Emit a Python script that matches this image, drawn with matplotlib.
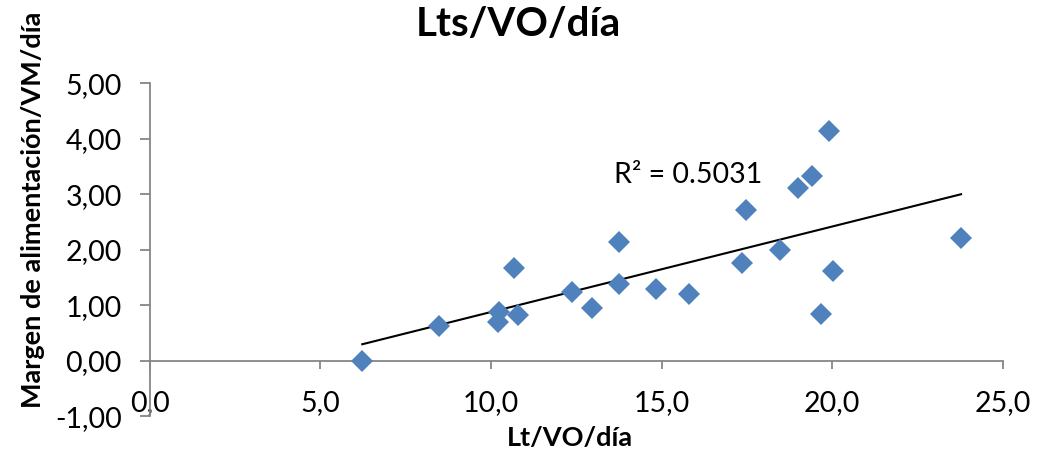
import numpy as np
import matplotlib
matplotlib.use("Agg")
import matplotlib.pyplot as plt

# Data
lt_vo_dia = [6.23, 8.48, 10.24, 10.21, 10.68, 10.79, 12.38, 12.97, 13.75, 13.75,
             14.84, 15.80, 17.36, 17.48, 18.48, 19.00, 19.41, 19.91, 20.02, 19.67, 23.78]
margen = [0.00, 0.63, 0.88, 0.70, 1.67, 0.82, 1.24, 0.95, 2.14, 1.38,
          1.29, 1.20, 1.77, 2.72, 2.00, 3.11, 3.33, 4.14, 1.62, 0.84, 2.21]
x_ticks = [0, 5, 10, 15, 20, 25]
x_tick_labels = ["0,0", "5,0", "10,0", "15,0", "20,0", "25,0"]
y_ticks = [-1, 0, 1, 2, 3, 4, 5]
y_tick_labels = ["-1,00", "0,00", "1,00", "2,00", "3,00", "4,00", "5,00"]
r2_text = "R² = 0.5031"
title = "Lts/VO/día"
xlabel = "Lt/VO/día"
ylabel = "Margen de alimentación/VM/día"

plt.rcParams['font.family'] = ['Lato', 'DejaVu Sans']

fig = plt.figure(figsize=(10.38, 4.55), dpi=100)
ax = fig.add_axes([149.7 / 1038, 1 - 416.2 / 455, (1002.7 - 149.7) / 1038, (416.2 - 83.3) / 455])

x = np.array(lt_vo_dia)
y = np.array(margen)
ax.plot(x, y, linestyle='none', marker='D', markersize=11, color='#4F81BD',
        markeredgewidth=0, zorder=3, clip_on=False)

coef = np.polyfit(x, y, 1)
xs = np.array([x.min(), x.max()])
ax.plot(xs, np.polyval(coef, xs), color='black', linewidth=1.5, zorder=2)

ax.set_xlim(0, 25)
ax.set_ylim(-1, 5)

axis_color = '#868686'
for s in ['top', 'right']:
    ax.spines[s].set_visible(False)
ax.spines['left'].set_position(('data', 0))
ax.spines['bottom'].set_position(('data', 0))
ax.spines['left'].set_color(axis_color)
ax.spines['bottom'].set_color(axis_color)
ax.spines['left'].set_linewidth(1.3)
ax.spines['bottom'].set_linewidth(1.3)

ax.set_xticks(x_ticks)
ax.set_xticklabels(x_tick_labels)
ax.set_yticks(y_ticks)
ax.set_yticklabels(y_tick_labels)
ax.tick_params(axis='x', direction='out', length=6, width=1.3, color=axis_color,
               labelsize=20.5, pad=15, labelcolor='black')
ax.tick_params(axis='y', direction='out', length=7, width=1.3, color=axis_color,
               labelsize=20.5, pad=13, labelcolor='black')

ax.text(13.6, 3.35, r2_text, fontsize=20.5, ha='left', va='center', color='black')

fig.text(518 / 1038, 1 - 24 / 455, title, fontsize=29, fontweight='bold',
         ha='center', va='center')
fig.text(570 / 1038, 1 - 438 / 455, xlabel, fontsize=19.5, fontweight='bold',
         ha='center', va='center')
fig.text(33 / 1038, 1 - 210 / 455, ylabel, fontsize=19.5, fontweight='bold',
         ha='center', va='center', rotation=90)

fig.savefig("out.png", dpi=100)
